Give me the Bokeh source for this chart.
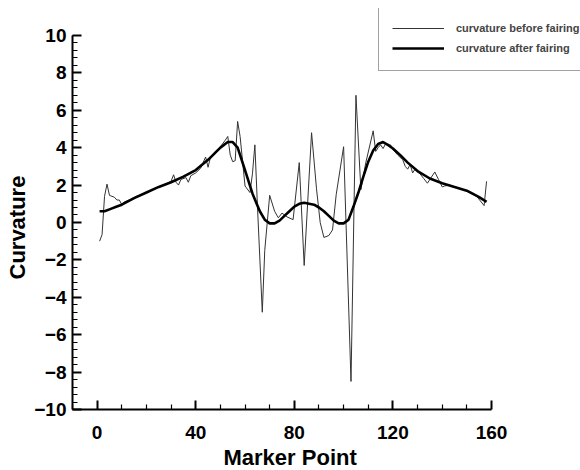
from bokeh.plotting import figure
from bokeh.models import FixedTicker, Legend, LegendItem, Range1d, Title
from bokeh.embed import file_html
from bokeh.resources import INLINE

# Curvature at each marker point before fairing (raw, noisy)
before_x = [1, 2, 3, 4, 5, 6, 7, 8, 9, 10, 11, 13, 16, 20, 24, 28, 30, 31, 32, 33,
            34, 36, 37, 38, 40, 42, 43, 44, 45, 46, 48, 50, 52, 53, 54, 55, 56, 57,
            58, 60, 62, 63, 64, 65, 67, 68, 70, 72, 73.5, 75, 77, 79.5, 82, 84, 87,
            89, 90.5, 92, 94, 95.5, 97, 100, 103, 105, 107, 109, 112, 113, 114, 115,
            116, 117, 118, 119, 120, 122, 124, 125, 126, 127, 128, 129, 130, 131,
            132.5, 134, 135, 137, 138.5, 140, 141, 143, 145, 148, 151, 154, 157, 158]
before_y = [-1.0, -0.65, 1.4, 2.05, 1.45, 1.4, 1.35, 1.2, 1.2, 0.95, 1.1, 1.2, 1.4,
            1.6, 1.85, 2.05, 2.2, 2.55, 2.15, 2.0, 2.3, 2.4, 2.15, 2.5, 2.65, 2.9,
            3.2, 3.5, 2.95, 3.5, 3.8, 4.05, 4.4, 4.6, 3.6, 3.25, 3.3, 5.4, 4.6, 1.95,
            1.6, 2.6, 4.15, 1.0, -4.8, -1.5, 1.45, 0.6, 0.25, 0.5, 0.3, 0.15, 3.2,
            -2.3, 4.8, 1.8, 0.0, -0.8, -0.7, -0.4, 1.5, 4.05, -8.5, 6.8, 1.75, 3.2,
            4.9, 3.8, 4.0, 4.15, 3.95, 4.2, 4.1, 4.15, 3.9, 3.6, 3.35, 3.0, 2.85,
            3.1, 2.65, 2.85, 2.7, 2.6, 2.35, 2.1, 2.3, 2.7, 2.3, 1.9, 1.95, 2.0,
            1.9, 1.8, 1.6, 1.4, 0.9, 2.2]

# Curvature after fairing (smooth)
after_x = [1, 3, 5, 8, 10, 15, 20, 25, 30, 35, 40, 45, 50, 53, 55, 57, 59.5, 63, 66,
           68, 70, 72, 74, 76, 78, 80, 82, 84, 86, 88, 90, 92, 94, 96, 98, 100, 102,
           104, 106, 108, 110, 112, 114, 116, 118, 120, 123, 126, 130, 135, 140,
           145, 150, 155, 158]
after_y = [0.6, 0.6, 0.7, 0.85, 0.95, 1.3, 1.6, 1.9, 2.15, 2.45, 2.8, 3.35, 4.0,
           4.3, 4.3, 4.0, 3.0, 1.55, 0.6, 0.15, -0.05, -0.05, 0.1, 0.35, 0.6, 0.85,
           1.0, 1.05, 1.0, 0.95, 0.8, 0.6, 0.35, 0.1, -0.05, -0.05, 0.15, 0.85,
           1.6, 2.45, 3.25, 3.85, 4.2, 4.3, 4.15, 3.95, 3.6, 3.2, 2.75, 2.35, 2.1,
           1.9, 1.7, 1.35, 1.1]

x_major = [0, 40, 80, 120, 160]
x_minor = [v for v in range(-10, 161, 10) if v % 40 != 0]
y_major = [-10, -8, -6, -4, -2, 0, 2, 4, 6, 8, 10]
y_minor = [round(-10 + 0.4 * i, 1) for i in range(51)]

FONT = "Liberation Sans"

# The plotting area runs to the right and top edges so the legend box can sit
# beyond the axes; the axes themselves stop at their bounds.
PX_X = (491 - 72) / 170.0        # pixels per marker point
PX_Y = (410 - 35) / 20.0         # pixels per curvature unit
x_end = 160 + (580 - 491) / PX_X
y_end = 10 + (35 - 8) / PX_Y

p = figure(width=580, height=470, output_backend="svg", toolbar_location=None,
           x_range=Range1d(-10, x_end), y_range=Range1d(-10, y_end),
           min_border_left=72, min_border_right=0, min_border_top=8,
           min_border_bottom=60)
p.outline_line_color = None
p.grid.visible = False
p.background_fill_color = "white"

before = p.line(before_x, before_y, line_color="#333333", line_width=1)
after = p.line(after_x, after_y, line_color="black", line_width=2.6)

for ax in (p.xaxis[0], p.yaxis[0]):
    ax.axis_line_width = 2
    ax.major_tick_line_width = 2
    ax.minor_tick_line_width = 1.2
    ax.major_tick_in = 9
    ax.major_tick_out = 0
    ax.minor_tick_in = 5
    ax.minor_tick_out = 0
    ax.major_label_text_font = FONT
    ax.major_label_text_font_style = "bold"
    ax.major_label_text_font_size = "19px"
    ax.major_label_text_color = "black"

p.xaxis.bounds = (-10, 160)
p.yaxis.bounds = (-10, 10)
p.xaxis.ticker = FixedTicker(ticks=x_major, minor_ticks=x_minor)
p.yaxis.ticker = FixedTicker(ticks=y_major, minor_ticks=y_minor)
p.xaxis.major_label_standoff = 16
p.yaxis.major_label_standoff = 6

# Axis titles, centred on the drawn extent of each axis
x_title = Title(text="Marker Point", align="left", offset=151,
                text_font=FONT, text_font_style="bold", text_font_size="22px",
                text_color="black", standoff=2)
p.add_layout(x_title, "below")
y_title = Title(text="Curvature", align="left", offset=130,
                text_font=FONT, text_font_style="bold", text_font_size="22px",
                text_color="black", standoff=4)
p.add_layout(y_title, "left")

legend = Legend(items=[LegendItem(label="curvature before fairing", renderers=[before]),
                       LegendItem(label="curvature after fairing", renderers=[after])],
                location=(306, 338))
legend.border_line_color = "#444444"
legend.border_line_width = 1
legend.background_fill_alpha = 1
legend.label_text_font = FONT
legend.label_text_font_style = "bold"
legend.label_text_font_size = "11px"
legend.label_height = 18
legend.glyph_height = 18
legend.glyph_width = 52
legend.spacing = 2
legend.padding = 13
legend.margin = 0
legend.label_standoff = 12
p.add_layout(legend, "center")

open("out.html", "w").write(file_html(p, INLINE))
